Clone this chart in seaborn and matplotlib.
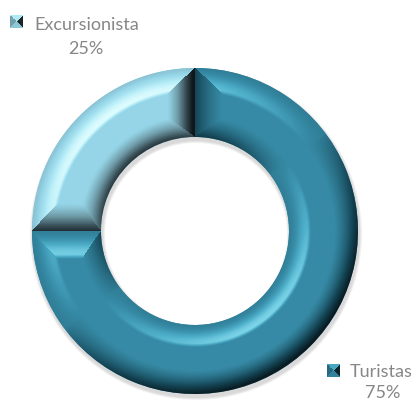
import numpy as np
import seaborn as sns
import matplotlib.pyplot as plt

categories = ["Turistas", "Excursionista"]
shares = [75, 25]

sns.set_theme(style="white")
plt.rcParams["font.family"] = ["Lato", "DejaVu Sans"]

# shade ramps, dark -> base (at 0.6) -> highlight
teal_cmap = sns.blend_palette(["#0a1d24", "#123f4e", "#25677d", "#378ba6", "#4fb0cb", "#7fd6ea"], as_cmap=True)
light_cmap = sns.blend_palette(["#11181b", "#3a5058", "#6f9ba8", "#96d6e8", "#b8eef8", "#e0fdff"], as_cmap=True)
cmaps = [teal_cmap, light_cmap]
# how much light each slice's two end bevels get (start, end)
end_light = [(-0.3, 0.9), (-0.6, -1.0)]

W, H = 417, 402
cx, cy = 195, 170
r_out, r_in = 163, 94
bevel_out, bevel_in, bevel_end = 24, 22, 28
light = np.array([-0.6, 0.8])


def shade(s, dot, strength):
    # s is 0 at the flat face and 1 at the rim
    lit = np.clip(dot, 0, 1) * np.exp(-(((s - 0.2) / 0.45) ** 2)) * np.clip(s / 0.15, 0, 1)
    dark = strength * np.clip(-dot, 0, 1) ** 0.6 * s ** 1.3
    return 0.6 + 0.4 * lit - 0.6 * dark - 0.08 * s


def ring_shading(a_start, a_end, lights):
    xs = np.arange(W) + 0.5
    ys = np.arange(H) + 0.5
    X, Y = np.meshgrid(xs, ys)
    dx, dy = X - cx, Y - cy
    r = np.hypot(dx, dy) + 1e-6
    # clockwise angle from 12 o'clock
    ang = np.degrees(np.arctan2(dx, dy)) % 360
    ux, uy = dx / r, dy / r

    t_out = (r_out - r) / bevel_out
    t_in = (r - r_in) / bevel_in
    t_a = np.radians(ang - a_start) * r / bevel_end
    t_b = np.radians(a_end - ang) * r / bevel_end
    stack = np.stack([t_out, t_in, t_a, t_b])
    which = stack.argmin(axis=0)
    s = 1 - np.clip(stack.min(axis=0), 0, 1)

    radial = ux * light[0] + uy * light[1]
    dot = np.choose(which, [radial, -radial, np.full_like(r, lights[0]), np.full_like(r, lights[1])])
    strength = np.choose(which, [1.0, 0.7, 1.0, 1.0])
    return shade(s, dot, strength)


def pyramid(size=13):
    # small bevelled square used as legend key
    c = np.linspace(-1, 1, size)
    X, Y = np.meshgrid(c, -c)
    vals = np.where(np.abs(X) > np.abs(Y), np.where(X > 0, 0.05, 0.42), np.where(Y > 0, 0.55, 0.75))
    return vals


fig = plt.figure(figsize=(W / 100, H / 100), dpi=100)
ax = fig.add_axes([0, 0, 1, 1])

# soft shadow under the ring
for grow in [3, 2, 1]:
    ax.pie(
        [sum(shares)],
        colors=["#000000"],
        center=(cx + 1, cy - 3),
        radius=r_out + grow,
        wedgeprops={"width": r_out - r_in + 2 * grow, "linewidth": 0, "alpha": 0.05},
    )

wedges, _ = ax.pie(
    shares,
    colors=["#378ba6", "#96d6e8"],
    startangle=90,
    counterclock=False,
    center=(cx, cy),
    radius=r_out,
    wedgeprops={"width": r_out - r_in, "linewidth": 0},
)

start = 0
for wedge, share, cmap, lights in zip(wedges, shares, cmaps, end_light):
    end = start + share / sum(shares) * 360
    img = ax.imshow(
        ring_shading(start, end, lights),
        cmap=cmap, vmin=0, vmax=1,
        extent=(0, W, 0, H), origin="lower", interpolation="bilinear", zorder=3,
    )
    img.set_clip_path(wedge)
    start = end

label_pos = [(383, 9), (86, 353)]
name_y = [30, 377]
name_right = [413, 139]
key_pos = [(327, 24), (10, 373)]
for i, name in enumerate(categories):
    lx, ly = label_pos[i]
    kx, ky = key_pos[i]
    ax.text(name_right[i], name_y[i], name, ha="right", va="center", fontsize=13, color="#868686")
    ax.text(lx, ly, f"{shares[i]}%", ha="center", va="center", fontsize=13, color="#868686")
    ax.imshow(pyramid(), cmap=cmaps[i], vmin=0, vmax=1, extent=(kx, kx + 13, ky, ky + 13),
              origin="lower", interpolation="nearest", zorder=3)

ax.set_xlim(0, W)
ax.set_ylim(0, H)
ax.set_aspect("equal")
ax.axis("off")
fig.savefig("out.png", dpi=100)
